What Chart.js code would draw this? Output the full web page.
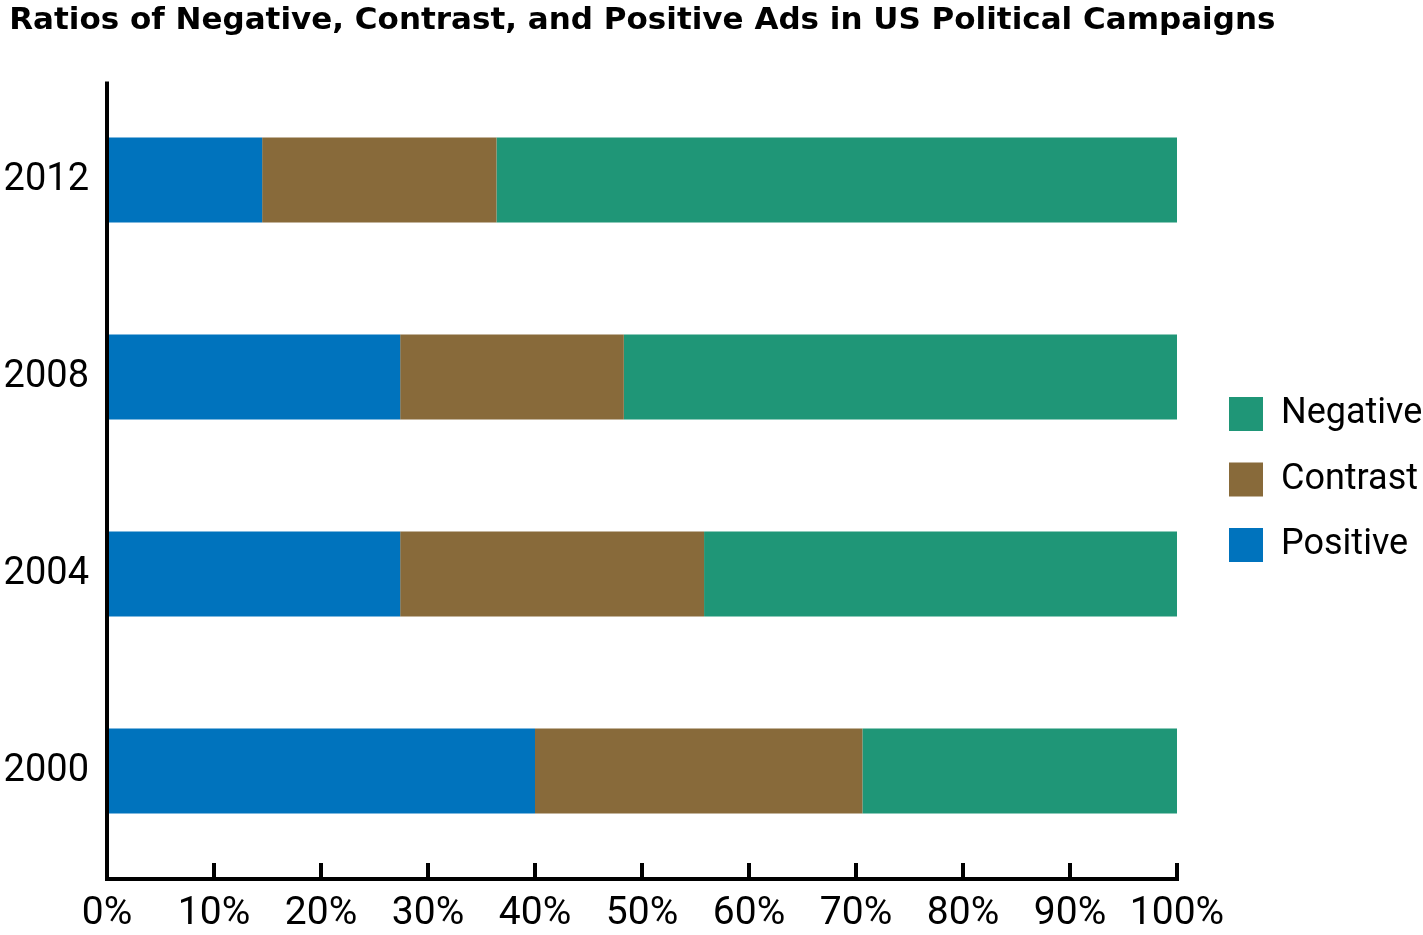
<!DOCTYPE html>
<html><head><meta charset="utf-8">
<script src="https://cdn.jsdelivr.net/npm/chart.js@4"></script>
<style>html,body{margin:0;padding:0;background:#fff}canvas{display:block}</style>
</head><body>
<canvas id="c" width="1423" height="935"></canvas>
<script>
const years = ['2012', '2008', '2004', '2000'];
const positive = [14.5, 27.4, 27.4, 40.0];
const contrast = [21.9, 20.9, 28.4, 30.6];
const negative = [63.6, 51.7, 44.2, 29.4];
const seriesNames = ['Positive', 'Contrast', 'Negative'];
const titleText = '\u2009Ratios of Negative, Contrast, and Positive Ads in US Political Campaigns';
const colPositive = '#0073bd';
const colContrast = '#886a3a';
const colNegative = '#1f9677';
const FONT = 'Roboto';

const axisPlugin = {
  id: 'axisLines',
  afterDatasetsDraw(chart) {
    const {ctx, chartArea: a, scales: {x}} = chart;
    const yb = a.bottom + 9.5;
    const xr = x.getPixelForValue(100);
    ctx.save();
    ctx.strokeStyle = '#000';
    ctx.lineWidth = 4;
    ctx.beginPath();
    ctx.moveTo(a.left, a.top);
    ctx.lineTo(a.left, yb + 2);
    ctx.moveTo(a.left - 2, yb);
    ctx.lineTo(xr + 2, yb);
    x.ticks.forEach(t => {
      const px = x.getPixelForValue(t.value);
      ctx.moveTo(px, yb);
      ctx.lineTo(px, yb - 16);
    });
    ctx.stroke();
    ctx.restore();
  }
};

new Chart(document.getElementById('c'), {
  type: 'bar',
  data: {
    labels: years,
    datasets: [
      {label: seriesNames[0], data: positive, backgroundColor: colPositive, borderWidth: 0},
      {label: seriesNames[1], data: contrast, backgroundColor: colContrast, borderWidth: 0},
      {label: seriesNames[2], data: negative, backgroundColor: colNegative, borderWidth: 0}
    ]
  },
  options: {
    indexAxis: 'y',
    responsive: false,
    animation: false,
    layout: {padding: {left: 3, right: 0, top: 0, bottom: 0}},
    datasets: {bar: {categoryPercentage: 1, barPercentage: 0.4315}},
    scales: {
      x: {
        type: 'linear', stacked: true, min: 0, max: 100,
        grid: {display: false}, border: {display: false},
        ticks: {stepSize: 10, padding: 13.5, color: '#000', maxRotation: 0,
          font: {family: FONT, size: 39},
          callback: v => v + '%'},
        afterFit(s) { s.height = 65.5; }
      },
      y: {
        stacked: true,
        grid: {display: false}, border: {display: false},
        ticks: {padding: 10, color: '#000', font: {family: FONT, size: 38}},
        afterFit(s) { s.width = 104; }
      },
      y2: {
        type: 'category', position: 'right', display: true,
        grid: {display: false}, border: {display: false},
        ticks: {display: false},
        afterFit(s) { s.width = 22.5; }
      }
    },
    plugins: {
      title: {
        display: true, text: titleText, align: 'start', color: '#000',
        font: {family: 'DejaVu Sans', size: 31, weight: 'bold'},
        padding: {top: 2, bottom: 42.3}
      },
      legend: {
        position: 'right', align: 'center', reverse: true, fullSize: false,
        maxWidth: 223.5,
        title: {display: true, text: ' ', font: {size: 6}, padding: 0.5},
        labels: {boxWidth: 34, boxHeight: 34, padding: 29.5, color: '#000',
          font: {family: FONT, size: 36}}
      },
      tooltip: {enabled: false}
    }
  },
  plugins: [axisPlugin]
});
</script>
</body></html>
